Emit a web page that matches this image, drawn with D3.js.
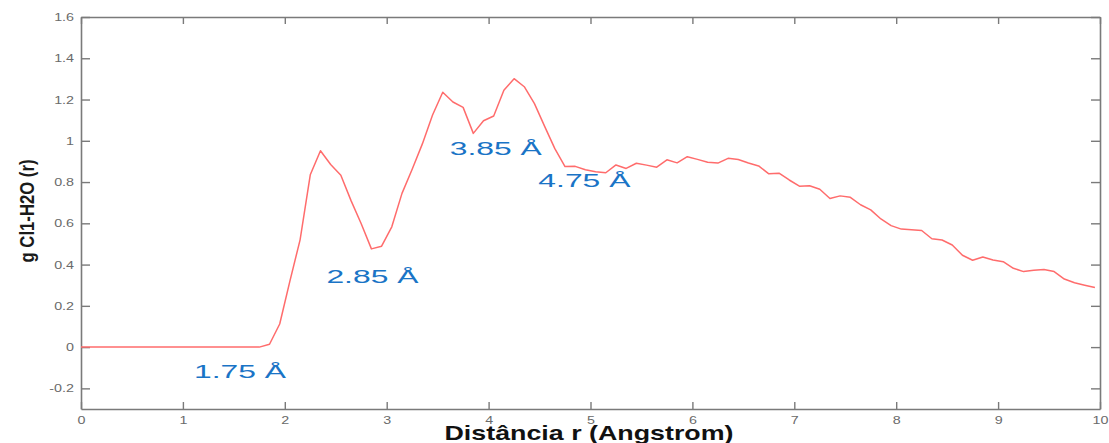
<!DOCTYPE html>
<html>
<head>
<meta charset="utf-8">
<script src="https://cdn.jsdelivr.net/npm/d3@7"></script>
<style>
  html, body { margin: 0; padding: 0; background: #fff; }
  svg { display: block; font-family: "Liberation Sans", Arial, sans-serif; }
</style>
</head>
<body>
<script>
// Radial distribution function g(r) for Cl1 - H2O
const distance = [0, 1.75, 1.85, 1.95, 2.05, 2.15, 2.25, 2.35, 2.45, 2.55, 2.65, 2.75, 2.85, 2.95,
  3.05, 3.15, 3.25, 3.35, 3.45, 3.55, 3.65, 3.75, 3.85, 3.95, 4.05, 4.15, 4.25, 4.35, 4.45,
  4.55, 4.65, 4.75, 4.85, 4.95, 5.05, 5.15, 5.25, 5.35, 5.45, 5.55, 5.65, 5.75, 5.85, 5.95,
  6.05, 6.15, 6.25, 6.35, 6.45, 6.55, 6.65, 6.75, 6.85, 6.95, 7.05, 7.15, 7.25, 7.35, 7.45,
  7.55, 7.65, 7.75, 7.85, 7.95, 8.05, 8.15, 8.25, 8.35, 8.45, 8.55, 8.65, 8.75, 8.85, 8.95,
  9.05, 9.15, 9.25, 9.35, 9.45, 9.55, 9.65, 9.75, 9.85, 9.95];
const gValues = [0, 0, 0.014, 0.112, 0.32, 0.52, 0.835, 0.952, 0.885, 0.833, 0.71, 0.598, 0.476, 0.489,
  0.583, 0.745, 0.862, 0.985, 1.125, 1.235, 1.188, 1.162, 1.036, 1.097, 1.12, 1.245, 1.301, 1.262, 1.18,
  1.07, 0.962, 0.875, 0.876, 0.86, 0.85, 0.845, 0.883, 0.866, 0.891, 0.882, 0.872, 0.908, 0.893, 0.923,
  0.91, 0.896, 0.892, 0.915, 0.909, 0.892, 0.878, 0.84, 0.843, 0.81, 0.78, 0.782, 0.765, 0.72, 0.733,
  0.726, 0.69, 0.665, 0.621, 0.589, 0.572, 0.569, 0.565, 0.525, 0.519, 0.495, 0.445, 0.421, 0.437, 0.422,
  0.414, 0.382, 0.366, 0.372, 0.376, 0.366, 0.33, 0.312, 0.3, 0.289];

const xTicks = [0, 1, 2, 3, 4, 5, 6, 7, 8, 9, 10];
const yTicks = [-0.2, 0, 0.2, 0.4, 0.6, 0.8, 1, 1.2, 1.4, 1.6];

// Distance markers written on the plot (text, anchor r, anchor g)
const markerText = ["1.75 Å", "2.85 Å", "3.85 Å", "4.75 Å"];
const markerR = [1.56, 2.86, 4.07, 4.94];
const markerG = [-0.15, 0.311, 0.931, 0.776];

const W = 1109, H = 443;
const plotLeft = 81, plotRight = 1100, plotTop = 17, plotBottom = 409;
const axisColor = "#7a7a7a";
const tickTextColor = "#6a6a6a";

const svg = d3.select("body").append("svg").attr("width", W).attr("height", H);
svg.append("rect").attr("width", W).attr("height", H).attr("fill", "#fff");

const x = d3.scaleLinear().domain([0, 10]).range([plotLeft, plotRight]);
const y = d3.scaleLinear().domain([-0.3, 1.6]).range([plotBottom, plotTop]);

// widen glyphs horizontally
function stretch(sel, factor) {
  sel.each(function () {
    const w = this.getComputedTextLength();
    d3.select(this).attr("textLength", w * factor).attr("lengthAdjust", "spacingAndGlyphs");
  });
}

function styleAxis(g) {
  g.select(".domain").attr("stroke", axisColor).attr("stroke-width", 1.6);
  g.selectAll(".tick line").attr("stroke", axisColor).attr("stroke-width", 1.4);
  g.selectAll(".tick text").attr("fill", tickTextColor)
    .style("font-family", "'Liberation Sans', Arial, sans-serif").style("font-size", "11px");
}

// bottom axis
const gx = svg.append("g").attr("transform", `translate(0,${plotBottom})`)
  .call(d3.axisBottom(x).tickValues(xTicks).tickFormat(d3.format("d"))
    .tickSizeInner(-7).tickSizeOuter(0).tickPadding(7));
styleAxis(gx);
stretch(gx.selectAll(".tick text"), 1.3);

// top axis (ticks only)
const gxt = svg.append("g").attr("transform", `translate(0,${plotTop})`)
  .call(d3.axisTop(x).tickValues(xTicks).tickFormat("").tickSizeInner(-7).tickSizeOuter(0));
styleAxis(gxt);

// left axis
const gy = svg.append("g").attr("transform", `translate(${plotLeft},0)`)
  .call(d3.axisLeft(y).tickValues(yTicks).tickFormat(d => String(+d.toFixed(1)))
    .tickSizeInner(-9).tickSizeOuter(0).tickPadding(7));
styleAxis(gy);
stretch(gy.selectAll(".tick text"), 1.3);

// right axis (ticks only)
const gyr = svg.append("g").attr("transform", `translate(${plotRight},0)`)
  .call(d3.axisRight(y).tickValues(yTicks).tickFormat("").tickSizeInner(-9).tickSizeOuter(0));
styleAxis(gyr);

// curve
const line = d3.line().x((d, i) => x(distance[i])).y(d => y(d));
svg.append("path")
  .datum(gValues)
  .attr("d", line)
  .attr("fill", "none")
  .attr("stroke", "#ff6c6c")
  .attr("stroke-width", 1.5)
  .attr("stroke-linejoin", "round");

// distance markers
svg.append("g").selectAll("text")
  .data(markerText)
  .join("text")
  .attr("x", (d, i) => x(markerR[i]))
  .attr("y", (d, i) => y(markerG[i]))
  .attr("text-anchor", "middle")
  .attr("fill", "#1a74c6")
  .style("font-size", "18px")
  .attr("textLength", 92)
  .attr("lengthAdjust", "spacingAndGlyphs")
  .text(d => d);

// axis titles
svg.append("text")
  .attr("x", 589)
  .attr("y", 440)
  .attr("text-anchor", "middle")
  .attr("fill", "#111")
  .style("font-size", "21px")
  .style("font-weight", "bold")
  .attr("textLength", 289)
  .attr("lengthAdjust", "spacingAndGlyphs")
  .text("Distância r (Angstrom)");

svg.append("text")
  .attr("transform", "translate(34,211) rotate(-90)")
  .attr("text-anchor", "middle")
  .attr("fill", "#1a1a1a")
  .style("font-size", "21px")
  .style("font-weight", "bold")
  .attr("textLength", 103)
  .attr("lengthAdjust", "spacingAndGlyphs")
  .text("g Cl1-H2O (r)");
</script>
</body>
</html>
